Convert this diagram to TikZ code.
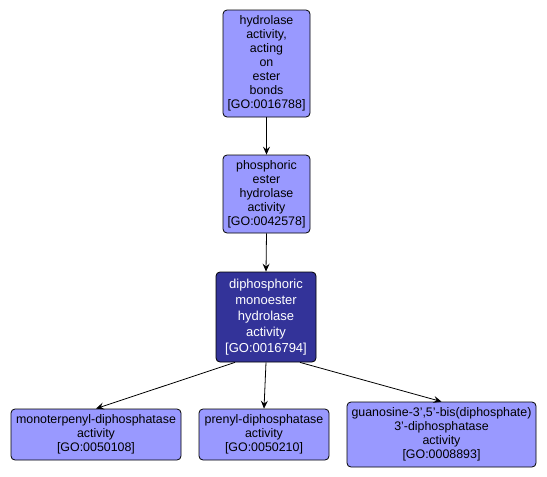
\documentclass[tikz,border=0pt]{standalone}
\usepackage{fontspec}
\setmainfont{Liberation Sans}
\usepackage{tikz}
\usetikzlibrary{arrows.meta}
\definecolor{golight}{RGB}{153,153,255}
\definecolor{godark}{RGB}{51,51,153}

\begin{document}
\begin{tikzpicture}[x=1pt, y=-1pt, font=\fontsize{12.4}{14}\selectfont, line width=0.8pt,
  gobox/.style={draw=black, fill=golight, rounded corners=4pt, align=center, inner sep=1pt},
  gosel/.style={gobox, fill=godark, text=white, font=\fontsize{13}{16}\selectfont},
  arr/.style={-{Stealth[length=8pt,width=7pt,inset=3pt]}, color=black, line width=0.8pt}]
\useasboundingbox (0,0) rectangle (547,477);
% ---- the chain of parents
\node[gobox, minimum width=87pt, minimum height=107pt] (hydro) at (266.5,63.5)
  {hydrolase\\ activity,\\ acting\\ on\\ ester\\ bonds\\ {[GO:0016788]}};
\node[gobox, minimum width=87pt, minimum height=78pt] (phos) at (266.5,194)
  {phosphoric\\ ester\\ hydrolase\\ activity\\ {[GO:0042578]}};
\node[gosel, minimum width=100pt, minimum height=90pt] (diphos) at (266,317)
  {diphosphoric\\ monoester\\ hydrolase\\ activity\\ {[GO:0016794]}};
% ---- the children
\node[gobox, minimum width=170pt, minimum height=51pt] (mono) at (96,434.5)
  {monoterpenyl-diphosphatase\\ activity\\ {[GO:0050108]}};
\node[gobox, minimum width=130pt, minimum height=51pt] (prenyl) at (264,434.5)
  {prenyl-diphosphatase\\ activity\\ {[GO:0050210]}};
\node[gobox, minimum width=189pt, minimum height=65pt] (guano) at (441.5,434.5)
  {guanosine-3',5'-bis(diphosphate)\\ 3'-diphosphatase\\ activity\\ {[GO:0008893]}};
\draw[arr] (hydro.south) -- (phos.north);
\draw[arr] (phos.south) -- (diphos.north);
\draw[arr] ([xshift=-31pt]diphos.south) -- (mono.north);
\draw[arr] (diphos.south) -- (prenyl.north);
\draw[arr] ([xshift=34pt]diphos.south) -- (guano.north);
\end{tikzpicture}
\end{document}
